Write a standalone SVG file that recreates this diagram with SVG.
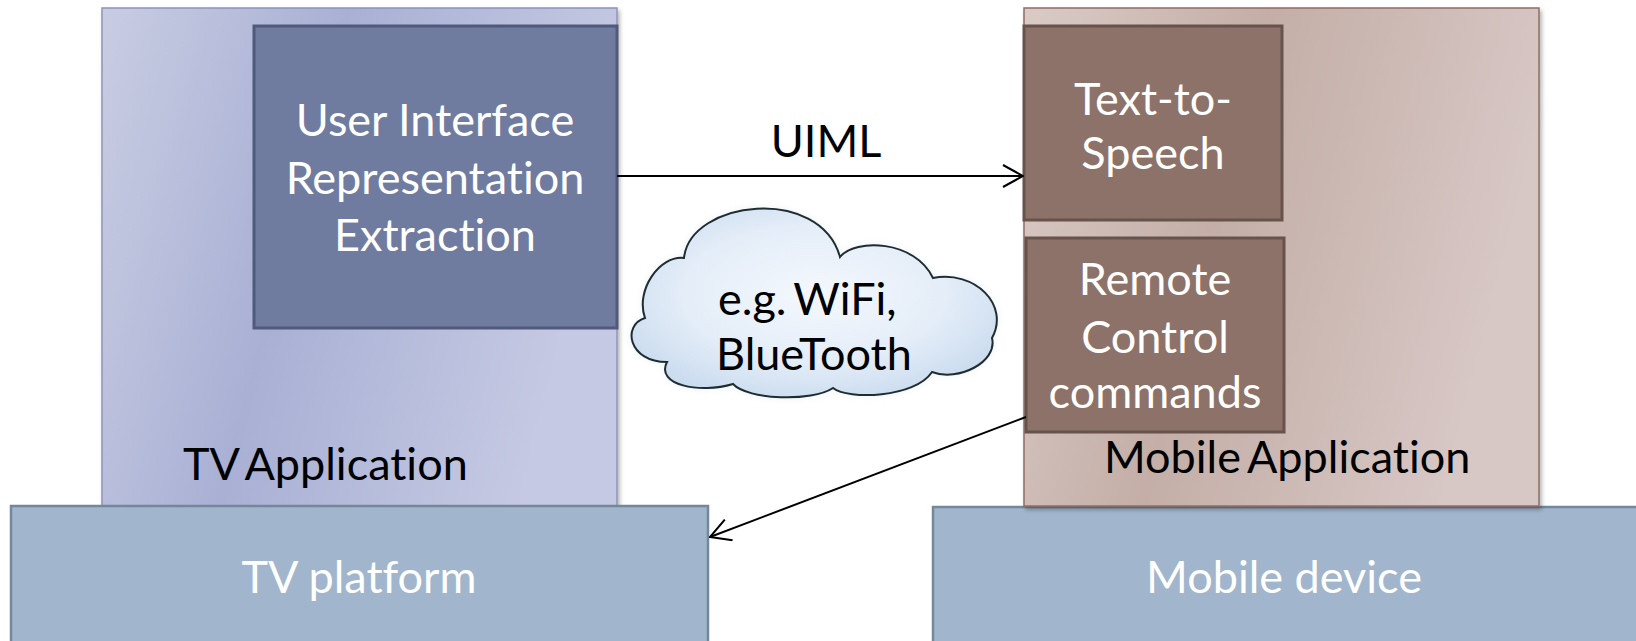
<svg xmlns="http://www.w3.org/2000/svg" width="1636" height="641" viewBox="0 0 1636 641">
  <defs>
    <style>
      .lbl { font-family: Lato, "Liberation Sans", sans-serif; font-size: 45px; font-variant-ligatures: none; }
      .white { fill: #ffffff; }
      .black { fill: #000000; word-spacing: -4px; }
      .mid { text-anchor: middle; }
      .inner-tv { fill: #707ba0; stroke: #505b7c; stroke-width: 3; }
      .inner-mob { fill: #8c7268; stroke: #67534c; stroke-width: 3; }
      .platform { fill: #a1b6cc; stroke: #74879b; stroke-width: 2.5; }
      .conn { stroke: #000000; stroke-width: 2; fill: none; }
    </style>
    <linearGradient id="gTv" x1="0" y1="0" x2="1" y2="0.25">
      <stop offset="0" stop-color="#c9cde3"/>
      <stop offset="0.45" stop-color="#a9b0d4"/>
      <stop offset="1" stop-color="#c5c9e3"/>
    </linearGradient>
    <linearGradient id="gMob" x1="0" y1="0" x2="1" y2="0.25">
      <stop offset="0" stop-color="#dacbc7"/>
      <stop offset="0.45" stop-color="#c4aea7"/>
      <stop offset="1" stop-color="#d7c7c5"/>
    </linearGradient>
    <radialGradient id="gCloud" cx="0.5" cy="0.45" r="0.6">
      <stop offset="0" stop-color="#f4f8fd"/>
      <stop offset="0.6" stop-color="#e4edf8"/>
      <stop offset="1" stop-color="#c9dbef"/>
    </radialGradient>
    <filter id="shadow" x="-10%" y="-10%" width="120%" height="120%">
      <feDropShadow dx="2" dy="3" stdDeviation="2" flood-color="#000000" flood-opacity="0.3"/>
    </filter>
    <filter id="glow" x="-20%" y="-20%" width="140%" height="140%">
      <feGaussianBlur stdDeviation="4"/>
    </filter>
    <marker id="arrow" viewBox="0 0 22 24" refX="21" refY="12" markerWidth="22" markerHeight="24" markerUnits="userSpaceOnUse" orient="auto">
      <path d="M1,1 L21,12 L1,23" stroke="#000000" stroke-width="2" fill="none"/>
    </marker>
    <path id="cloudShape" d="M645,318 C635,290 660,255 684,258 C690,200 820,185 840,257 C855,238 915,240 933,278 C975,270 1010,305 992,338 C998,362 958,382 932,372 C915,398 848,400 833,388 C812,402 748,400 733,384 C700,394 655,385 667,362 C628,362 622,325 645,318 Z"/>
  </defs>

  <rect width="1636" height="641" fill="#ffffff"/>

  <!-- TV side -->
  <g id="tv-application">
    <rect x="102" y="8" width="515" height="498" fill="url(#gTv)" stroke="#8c94ba" stroke-width="1.5" filter="url(#shadow)"/>
    <text class="lbl black" x="183" y="480">TV Application</text>
  </g>
  <g id="ui-extraction">
    <rect class="inner-tv" x="254" y="26" width="363" height="302"/>
    <text class="lbl white mid" x="435" y="136">User Interface</text>
    <text class="lbl white mid" x="435" y="194">Representation</text>
    <text class="lbl white mid" x="435" y="251">Extraction</text>
  </g>
  <g id="tv-platform">
    <rect class="platform" x="11" y="506" width="697" height="140"/>
    <text class="lbl white mid" x="359" y="593">TV platform</text>
  </g>

  <!-- Mobile side -->
  <g id="mobile-device">
    <rect class="platform" x="933" y="507" width="710" height="140"/>
    <text class="lbl white mid" x="1284" y="593">Mobile device</text>
  </g>
  <g id="mobile-application">
    <rect x="1024" y="8" width="515" height="498" fill="url(#gMob)" stroke="#8e6e66" stroke-width="1.5" filter="url(#shadow)"/>
    <text class="lbl black" x="1104" y="473">Mobile Application</text>
  </g>
  <g id="text-to-speech">
    <rect class="inner-mob" x="1024" y="26" width="258" height="194"/>
    <text class="lbl white mid" x="1153" y="115">Text-to-</text>
    <text class="lbl white mid" x="1153" y="169">Speech</text>
  </g>
  <g id="remote-control">
    <rect class="inner-mob" x="1026" y="238" width="258" height="194"/>
    <text class="lbl white mid" x="1155" y="295">Remote</text>
    <text class="lbl white mid" x="1155" y="353">Control</text>
    <text class="lbl white mid" x="1155" y="408">commands</text>
  </g>

  <!-- Wireless link -->
  <g id="cloud">
    <use href="#cloudShape" fill="#dfe8f2" opacity="0.7" filter="url(#glow)"/>
    <use href="#cloudShape" fill="url(#gCloud)" stroke="#1f2d31" stroke-width="2"/>
    <text class="lbl black" x="718" y="315">e.g. WiFi,</text>
    <text class="lbl black" x="716" y="370">BlueTooth</text>
  </g>

  <!-- Connectors -->
  <g id="connectors">
    <line class="conn" x1="617" y1="176" x2="1023" y2="176" marker-end="url(#arrow)"/>
    <text class="lbl black mid" x="826" y="157">UIML</text>
    <line class="conn" x1="1026" y1="417" x2="710" y2="537" marker-end="url(#arrow)"/>
  </g>
</svg>
